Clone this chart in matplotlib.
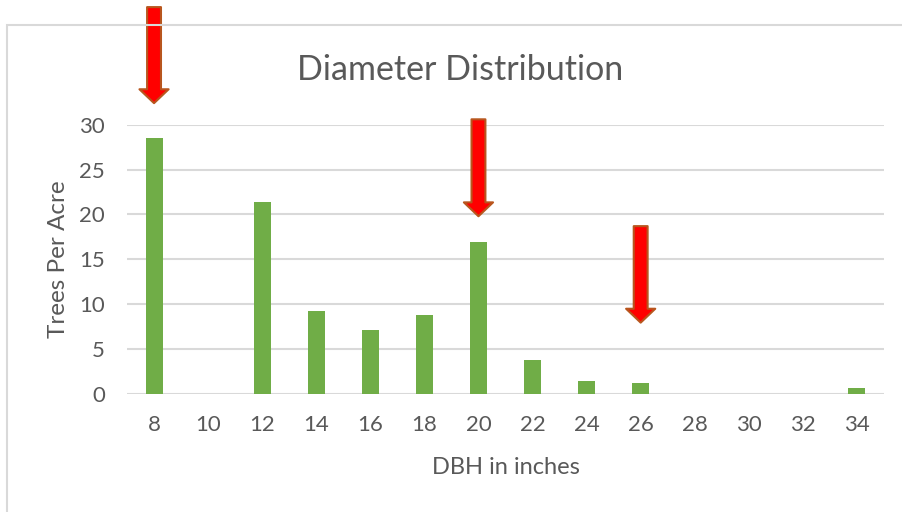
import numpy as np
import matplotlib.pyplot as plt
from matplotlib.patches import Rectangle

# diameter classes (inches) and trees per acre in each class
dbh = [8, 10, 12, 14, 16, 18, 20, 22, 24, 26, 28, 30, 32, 34]
trees_per_acre = [28.5, 0, 21.4, 9.25, 7.1, 8.77, 16.9, 3.8, 1.45, 1.23, 0, 0, 0, 0.7]

# classes to call out with an arrow: (dbh, tail y, tip y)
arrow_dbh = [8, 20, 26]
arrow_tail = [43.1, 30.6, 18.7]
arrow_tip = [32.4, 19.8, 7.95]

text_color = "#595959"
grid_color = "#d9d9d9"
plt.rcParams["font.family"] = ["Lato", "DejaVu Sans"]

fig = plt.figure(figsize=(9.02, 5.12), dpi=100)

# light outline around the chart area
fig.patches.append(Rectangle((7 / 902, -0.01), 1.1, (512 - 25) / 512 + 0.01,
                             transform=fig.transFigure, fill=False,
                             edgecolor=grid_color, linewidth=1.5))

ax = fig.add_axes([127 / 902, 118 / 512, 757 / 902, 269.3 / 512])
ax.bar(dbh, trees_per_acre, width=0.63, color="#70AD47", zorder=3)

ax.set_xlim(7, 35)
ax.set_ylim(0, 30)
ax.set_xticks(dbh)
ax.set_yticks(range(0, 31, 5))
ax.tick_params(length=0, labelsize=16, colors=text_color)
ax.tick_params(axis="x", pad=15)
ax.tick_params(axis="y", pad=16)
for s in ax.spines.values():
    s.set_visible(False)
ax.yaxis.grid(True, color=grid_color, linewidth=1.5, zorder=0)
ax.set_axisbelow(True)

ax.set_xlabel("DBH in inches", fontsize=17, color=text_color, labelpad=16)
ax.set_ylabel("Trees Per Acre", fontsize=17.5, color=text_color, labelpad=7)
fig.text(460 / 902, 1 - 70 / 512, "Diameter Distribution", fontsize=24.5,
         color=text_color, ha="center", va="center")

# red call-out arrows above selected bars
for x, y0, y1 in zip(arrow_dbh, arrow_tail, arrow_tip):
    ax.annotate("", xy=(x, y1), xytext=(x, y0), annotation_clip=False,
                arrowprops=dict(arrowstyle="simple,head_length=1.0,head_width=2.1,tail_width=1.0",
                                mutation_scale=10, fc="#FF0000", ec="#B8561E",
                                lw=1.5, shrinkA=0, shrinkB=0), zorder=5)

fig.savefig("out.png", dpi=100)
